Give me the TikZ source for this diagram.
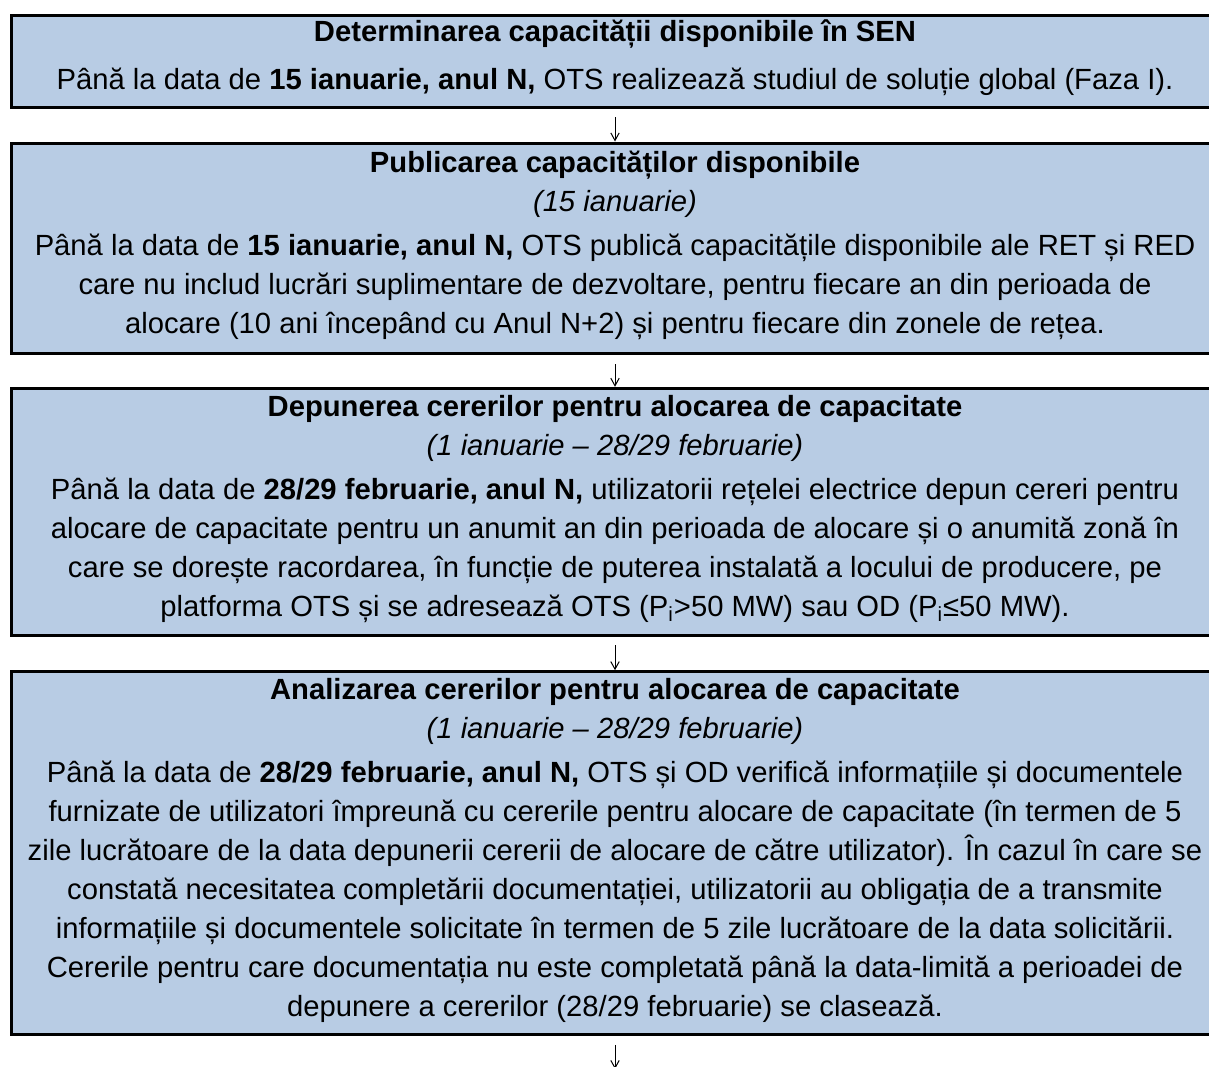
\documentclass[tikz,border=0pt]{standalone}
\usepackage{fontspec}
\setmainfont{Liberation Sans}
\usetikzlibrary{arrows.meta}
\definecolor{stagefill}{HTML}{B8CCE4}

\begin{document}
\begin{tikzpicture}
[x=0.5pt, y=-0.5pt, >={Straight Barb[length=3.8pt,width=4.2pt]},
stage/.style={rectangle, draw=black, line width=1.5pt, fill=stagefill, inner xsep=0pt, inner ysep=1pt, text depth=6pt, minimum width=603.5pt, align=center, font=\fontsize{14.6}{19.5}\selectfont},
flow/.style={line width=0.5pt, shorten >=4.25pt}]

\useasboundingbox (0,0) rectangle (1209,1066);
\clip (0,0) rectangle (1209,1066);

\node[stage, minimum height=46pt] (determinare) at (615,61)
  {\textbf{Determinarea capacității disponibile în SEN}\\[4.5pt]
   Până la data de \textbf{15 ianuarie, anul N,} OTS realizează studiul de soluție global (Faza I).};
\node[stage, minimum height=105.35pt] (publicare) at (615,248.35)
  {\textbf{Publicarea capacităților disponibile}\\
   \textit{(15 ianuarie)}\\[2.5pt]
   Până la data de \textbf{15 ianuarie, anul N,} OTS publică capacitățile disponibile ale RET și RED\\
   care nu includ lucrări suplimentare de dezvoltare, pentru fiecare an din perioada de\\
   alocare (10 ani începând cu Anul N+2) și pentru fiecare din zonele de rețea.}
  edge [<-, flow] (determinare);
\node[stage, minimum height=123.5pt] (depunere) at (615,511.8)
  {\textbf{Depunerea cererilor pentru alocarea de capacitate}\\
   \textit{(1 ianuarie – 28/29 februarie)}\\[2.5pt]
   Până la data de \textbf{28/29 februarie, anul N,} utilizatorii rețelei electrice depun cereri pentru\\
   alocare de capacitate pentru un anumit an din perioada de alocare și o anumită zonă în\\
   care se dorește racordarea, în funcție de puterea instalată a locului de producere, pe\\
   platforma OTS și se adresează OTS (P\textsubscript{i}>50 MW) sau OD (P\textsubscript{i}≤50 MW).}
  edge [<-, flow] (publicare);
\node[stage, minimum height=181.3pt] (analizare) at (615,853)
  {\textbf{Analizarea cererilor pentru alocarea de capacitate}\\
   \textit{(1 ianuarie – 28/29 februarie)}\\[2.5pt]
   Până la data de \textbf{28/29 februarie, anul N,} OTS și OD verifică informațiile și documentele\\
   furnizate de utilizatori împreună cu cererile pentru alocare de capacitate (în termen de 5\\
   zile lucrătoare de la data depunerii cererii de alocare de către utilizator). În cazul în care se\\
   constată necesitatea completării documentației, utilizatorii au obligația de a transmite\\
   informațiile și documentele solicitate în termen de 5 zile lucrătoare de la data solicitării.\\
   Cererile pentru care documentația nu este completată până la data-limită a perioadei de\\
   depunere a cererilor (28/29 februarie) se clasează.}
  edge [<-, flow] (depunere);

% next stage lies below the page
\coordinate (urmator) at (615,1069);
\draw[->, line width=0.5pt, shorten <=4.5pt] (analizare) -- (urmator);
\end{tikzpicture}
\end{document}
